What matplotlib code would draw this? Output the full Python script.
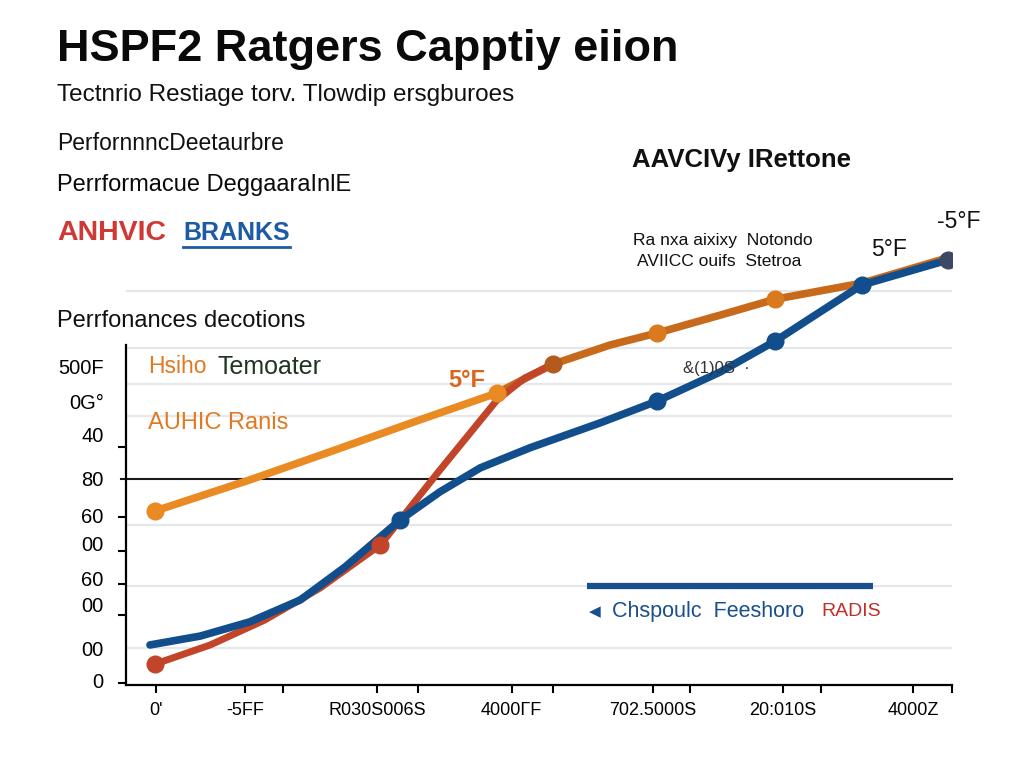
import matplotlib
matplotlib.use("Agg")
import matplotlib.pyplot as plt

BASE = "Liberation Sans"
plt.rcParams["font.family"] = [BASE, "DejaVu Sans"]

# ---------------- data ----------------
blue_x = [0.29, 0.90, 1.50, 2.11, 2.65, 3.32, 3.80, 4.29, 4.89, 5.74, 6.43, 7.19, 7.86, 8.40, 8.91, 9.95]
blue_y = [9.0, 11.0, 14.2, 19.1, 26.5, 37.1, 43.4, 48.8, 53.3, 58.9, 63.8, 70.3, 77.3, 83.8, 89.9, 95.5]
blue_marks = [5, 10, 12, 14]

red_x = [0.35, 1.02, 1.68, 2.35, 3.08, 3.80, 4.49, 4.83, 5.17]
red_y = [4.7, 9.0, 14.6, 21.8, 31.5, 48.3, 64.0, 69.0, 72.1]
red_marks = [0, 4]

orange_x = [0.35, 1.50, 2.47, 3.56, 4.49, 5.17, 5.86, 6.43, 7.19, 7.86, 8.91, 9.95]
orange_y = [39.1, 46.1, 52.4, 59.6, 65.6, 72.1, 76.4, 79.1, 83.1, 86.7, 90.3, 96.0]
orange_split = 4          # index where the darker orange part starts
orange_marks = [0, 4, 7, 9]
joint_point = (5.17, 72.1)
end_point = (9.95, 95.5)

x_label_pos = [0.36, 1.44, 3.04, 4.67, 6.38, 7.95, 9.53]
x_labels = ["0'", "-5FF", "R030S006S", "4000\u0393F", "702.5000S", "20:010S", "4000Z"]
x_minor = [1.90, 3.54, 5.17, 6.83, 8.41, 10.0]

y_label_pos = [71.5, 63.8, 56.2, 46.5, 38.2, 31.9, 24.0, 18.0, 8.3, 0.9]
y_labels = ["500F", "0G\u00b0", "40", "80", "60", "00", "60", "00", "00", "0"]
y_minor = [63.8, 53.5, 37.8, 30.1, 22.7, 15.7, 8.3, 0.4]

grid_y = [88.5, 75.7, 67.6, 60.4, 36.0, 22.2, 8.3]
black_line_y = 46.3
legend_bar_x = [5.58, 9.04]
legend_bar_y = 22.2

# ---------------- colours ----------------
C_BLUE = "#124e8c"
C_RED = "#c2452a"
C_ORANGE = "#e98a22"
C_ORANGE_D = "#c86a1c"
C_BROWN = "#b35a1e"
C_ENDPT = "#3c4866"

W, H = 1024, 768
fig = plt.figure(figsize=(W / 100, H / 100), dpi=100, facecolor="white")


def fx(px):
    return px / W


def fy(py):
    return 1 - py / H


ax = fig.add_axes([fx(126), fy(685), fx(952) - fx(126), (685 - 240) / H])
ax.set_xlim(0, 10)
ax.set_ylim(0, 100)
ax.set_facecolor("none")
for s in ("top", "right"):
    ax.spines[s].set_visible(False)
ax.spines["left"].set_bounds(0, 76.4)
ax.spines["left"].set_linewidth(1.6)
ax.spines["bottom"].set_linewidth(1.6)

for gy in grid_y:
    ax.axhline(gy, color="#e6e7ea", lw=1.6, zorder=0)
ax.axhline(black_line_y, xmin=-0.006, xmax=1, color="#1a1a1a", lw=1.5, zorder=1, clip_on=False)

# lines
ax.plot(orange_x[:orange_split + 1], orange_y[:orange_split + 1], color=C_ORANGE, lw=5.5,
        solid_capstyle="round", zorder=3)
ax.plot(orange_x[orange_split:], orange_y[orange_split:], color=C_ORANGE_D, lw=5.5,
        solid_capstyle="round", zorder=3)
ax.plot(red_x, red_y, color=C_RED, lw=5, solid_capstyle="round", zorder=4)
ax.plot(blue_x, blue_y, color=C_BLUE, lw=5.5, solid_capstyle="round", zorder=5)

# markers
ax.plot([orange_x[i] for i in orange_marks[:2]], [orange_y[i] for i in orange_marks[:2]], "o",
        color=C_ORANGE, ms=12, zorder=6)
ax.plot([orange_x[i] for i in orange_marks[2:]], [orange_y[i] for i in orange_marks[2:]], "o",
        color="#d97a1c", ms=12, zorder=6)
ax.plot([red_x[i] for i in red_marks], [red_y[i] for i in red_marks], "o", color=C_RED, ms=12, zorder=6)
ax.plot([joint_point[0]], [joint_point[1]], "o", color=C_BROWN, ms=12, zorder=6)
ax.plot([blue_x[i] for i in blue_marks], [blue_y[i] for i in blue_marks], "o", color=C_BLUE, ms=12, zorder=7)
ax.plot([end_point[0]], [end_point[1]], "o", color=C_ENDPT, ms=12, zorder=7)

# legend bar
ax.plot(legend_bar_x, [legend_bar_y, legend_bar_y], color="#1a4f8f", lw=4.5, solid_capstyle="butt", zorder=3)

# ticks
ax.set_xticks(x_label_pos)
ax.set_xticklabels(x_labels, fontsize=13)
ax.set_xticks(x_minor, minor=True)
ax.tick_params(axis="x", which="both", direction="out", length=6, width=1.5, pad=6)

ax.set_yticks(y_label_pos)
ax.set_yticklabels(y_labels, fontsize=14.5)
ax.set_yticks(y_minor, minor=True)
ax.tick_params(axis="y", which="major", length=0, pad=16)
ax.tick_params(axis="y", which="minor", direction="out", length=6, width=1.5)

# ---------------- texts ----------------
fig.text(fx(57), fy(50), "HSPF2 Ratgers Capptiy eiion", fontsize=32.5, fontweight="bold",
         va="center", ha="left", color="#0a0a0a")
fig.text(fx(57), fy(95), "Tectnrio Restiage torv. Tlowdip ersgburoes", fontsize=17.5,
         va="center", ha="left", color="#111111")
fig.text(fx(57), fy(143), "PerfornnncDeetaurbre", fontsize=16.5, va="center", ha="left", color="#111111")
fig.text(fx(57), fy(185), "Perrformacue DeggaaraInlE", fontsize=17, va="center", ha="left",
         color="#0a0a0a")
fig.text(fx(57), fy(233), "ANHVIC", fontsize=20.5, fontweight="bold",
         va="center", ha="left", color="#d23833")
fig.text(fx(183), fy(233), "BRANKS", fontsize=18, fontweight="bold",
         va="center", ha="left", color="#1d5ba6")
fig.add_artist(plt.Line2D([fx(183), fx(290)], [fy(247), fy(247)], color="#1d5ba6", lw=2))

fig.text(fx(632), fy(160), "AAVCIVy IRettone", fontsize=18.5, fontweight="bold", va="center",
         ha="left", color="#111111")
fig.text(fx(633), fy(241), "Ra nxa aixixy  Notondo", fontsize=12.5, va="center", ha="left",
         color="#111111")
fig.text(fx(637), fy(262), "AVIICC ouifs  Stetroa", fontsize=12.5, va="center", ha="left",
         color="#111111")
fig.text(fx(937), fy(222), "-5\u00b0F", fontsize=16.5, va="center", ha="left", color="#111111")
fig.text(fx(871), fy(250), "5\u00b0F", fontsize=16.5, va="center", ha="left", color="#111111")

fig.text(fx(57), fy(321), "Perrfonances decotions", fontsize=17, va="center", ha="left",
         color="#111111")
fig.text(fx(148), fy(367), "Hsiho", fontsize=16.5, va="center", ha="left", color="#e07a22")
fig.text(fx(218), fy(367), "Temoater", fontsize=18, va="center", ha="left", color="#1f3520")
fig.text(fx(148), fy(423), "AUHIC Ranis", fontsize=17, va="center", ha="left", color="#e07a22")
fig.text(fx(448), fy(380), "5\u00b0F", fontsize=17, fontweight="bold", va="center", ha="left",
         color="#d9661e")
fig.text(fx(683), fy(368), "&(1)0S  \u00b7", fontsize=12, va="center", ha="left", color="#333333")

fig.text(fx(589), fy(612), "\u25c0", fontsize=11, va="center", ha="left", color="#1a4f8f",
         family=["DejaVu Sans"])
fig.text(fx(612), fy(612), "Chspoulc  Feeshoro", fontsize=15.5, va="center", ha="left", color="#1a4f8f")
fig.text(fx(821), fy(612), "RADIS", fontsize=14, va="center", ha="left", color="#c0302a")

fig.savefig("out.png", dpi=100, facecolor="white")
